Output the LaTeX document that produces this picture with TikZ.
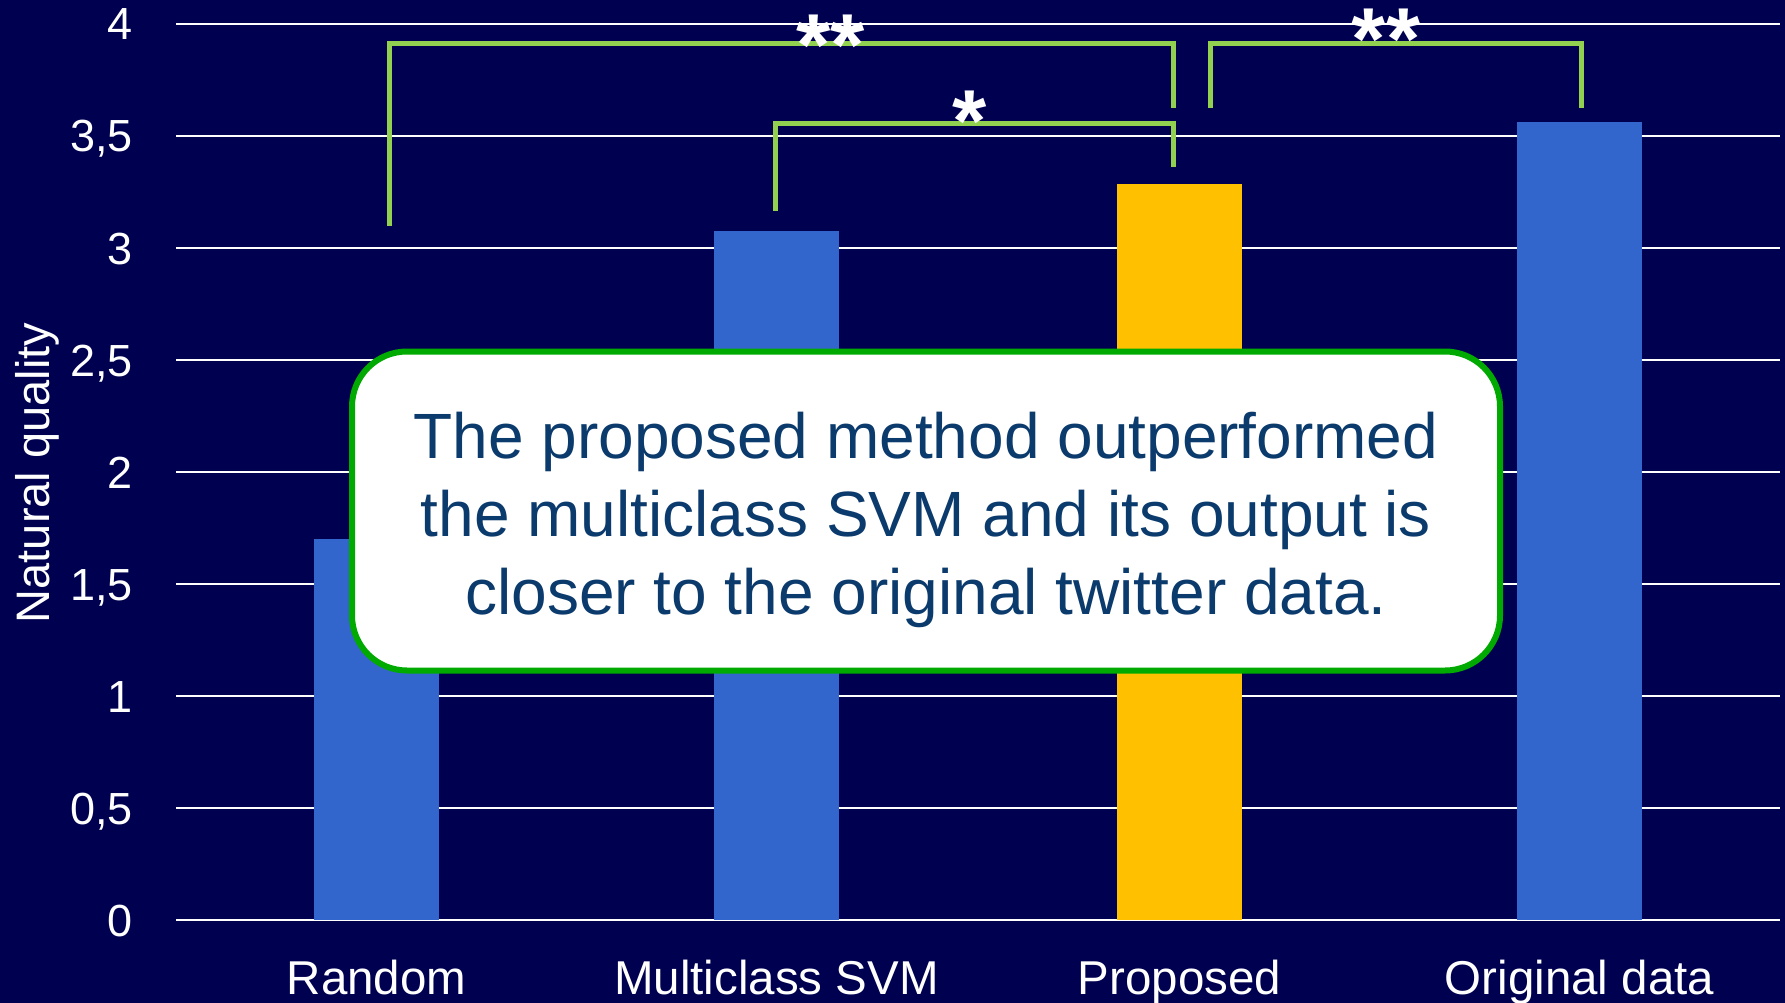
\documentclass[tikz,border=0pt]{standalone}
\usepackage{fontspec}
\setmainfont{Liberation Sans}
\definecolor{bg}{HTML}{000050}
\definecolor{barblue}{HTML}{3366CC}
\definecolor{baryellow}{HTML}{FFC000}
\definecolor{brgreen}{HTML}{92D050}
\definecolor{boxgreen}{HTML}{00AA00}
\definecolor{msgtext}{HTML}{0B3A6C}
\tikzset{
  gridline/.style={draw=white, line width=2.6pt},
  bracket/.style={draw=brgreen, line width=5pt, line join=miter, line cap=butt},
  ticklabel/.style={text=white, anchor=base east, inner sep=0pt, font=\fontsize{45}{54}\selectfont},
  catlabel/.style={text=white, anchor=base, inner sep=0pt, font=\fontsize{47.5}{57}\selectfont},
  starlabel/.style={text=white, anchor=base, inner sep=0pt, font=\bfseries\fontsize{88}{100}\selectfont},
  callout/.style={draw=boxgreen, line width=6pt, fill=white, rounded corners=55pt,
    minimum width=1148pt, minimum height=319pt, inner sep=0pt},
  callouttext/.style={align=center, inner sep=0pt,
    text=msgtext, font=\fontsize{64}{78}\selectfont}
}
\begin{document}
\begin{tikzpicture}[x=1pt,y=-1pt]
\fill[bg] (0,0) rectangle (1785,1003);
\useasboundingbox (0,0) rectangle (1785,1003);
% grid
\foreach \i in {0,...,8} {
  \draw[gridline] (176,{920-112*\i}) -- (1780,{920-112*\i});
}
% tick labels
\foreach \i/\t in {0/0,1/{0,5},2/1,3/{1,5},4/2,5/{2,5},6/3,7/{3,5},8/4} {
  \node[ticklabel] (tick\i) at (133,{920-112*\i+16}) {\t};
}
% axis title
\node[text=white, rotate=90, anchor=base, inner sep=0pt, font=\fontsize{47}{56}\selectfont] (ytitle) at (49,473) {Natural quality};
% bars
\fill[barblue] (314,920) rectangle (439,539);
\fill[barblue] (714,920) rectangle (839,231);
\fill[baryellow] (1117,920) rectangle (1242,184);
\fill[barblue] (1517,920) rectangle (1642,122);
% category labels
\node[catlabel] (c1) at (376.5,994) {Random};
\node[catlabel] (c2) at (776.5,994) {Multiclass SVM};
\node[catlabel] (c3) at (1179.5,994) {Proposed};
\node[catlabel] (c4) at (1579.5,994) {Original data};
% bracket coordinates
\coordinate (a1) at (389,226); \coordinate (a2) at (389,44);
\coordinate (a3) at (1173,44); \coordinate (a4) at (1173,108);
\coordinate (b1) at (775,211); \coordinate (b2) at (775,124);
\coordinate (b3) at (1173,124); \coordinate (b4) at (1173,167);
\coordinate (d1) at (1210,108); \coordinate (d2) at (1210,44);
\coordinate (d3) at (1581,44); \coordinate (d4) at (1581,108);
\draw[bracket] (a1) -- (a2) -- (a3) -- (a4);
\draw[bracket] (b1) -- (b2) -- (b3) -- (b4);
\draw[bracket] (d1) -- (d2) -- (d3) -- (d4);
% stars
\node[starlabel] (s1) at (831,76) {**};
\node[starlabel] (s2) at (970,152) {*};
\node[starlabel] (s3) at (1386,70) {**};
% callout
\node[callout] (msgbox) at (926,511) {};
\node[callouttext] (msg) at (926,520) {The proposed method outperformed\\the multiclass SVM and its output is\\closer to the original twitter data.};
\end{tikzpicture}
\end{document}
